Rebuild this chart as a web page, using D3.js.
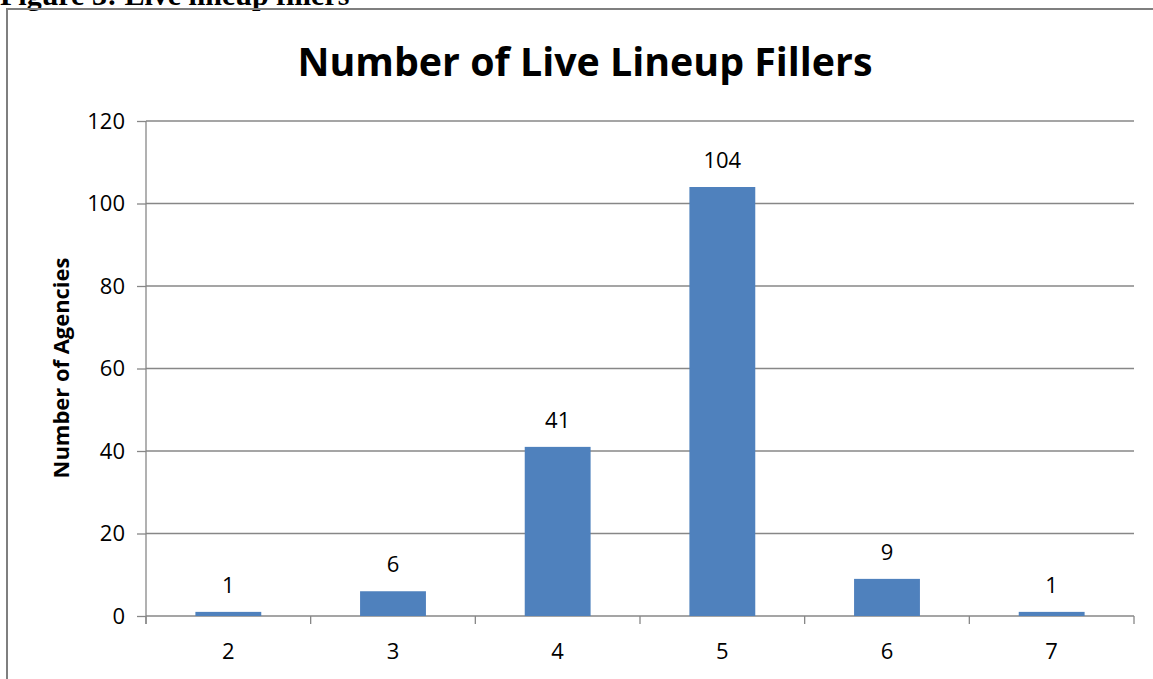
<!DOCTYPE html>
<meta charset="utf-8">
<script src="https://d3js.org/d3.v7.min.js"></script>
<style>
  body { margin: 0; background: #fff; }
  text { font-family: "Open Sans", "Noto Sans", sans-serif; fill: #000; }
</style>
<div id="chart"></div>
<script>
    var categories = ["2", "3", "4", "5", "6", "7"];
    var counts = [1, 6, 41, 104, 9, 1];
    var yTicks = [0, 20, 40, 60, 80, 100, 120];

    var W = 1153, H = 679;
    var margin = {top: 121, right: 19, bottom: 63, left: 146},
        width = W - margin.left - margin.right,
        height = H - margin.top - margin.bottom;

    var svg = d3.select("#chart")
      .append("svg")
        .attr("width", W)
        .attr("height", H);

    // caption cut off at top of page
    svg.append("text")
        .attr("x", 0)
        .attr("y", 5)
        .style("font-family", "'Liberation Serif', 'DejaVu Serif', serif")
        .style("font-weight", "bold")
        .style("font-size", "30px")
        .text("Figure 3: Live lineup fillers");

    // chart frame
    svg.append("rect")
        .attr("x", 7)
        .attr("y", 9)
        .attr("width", W + 10)
        .attr("height", H + 10)
        .attr("fill", "none")
        .attr("stroke", "#7f7f7f")
        .attr("stroke-width", 2);

    var g = svg.append("g")
        .attr("transform", "translate(" + margin.left + "," + margin.top + ")");

    var x = d3.scaleBand()
        .domain(categories)
        .range([0, width])
        .paddingInner(0.6)
        .paddingOuter(0.3);

    var y = d3.scaleLinear()
        .domain([0, 120])
        .range([height, 0]);

    // gridlines
    g.append("g")
      .selectAll("line")
      .data(yTicks.slice(1))
      .enter()
      .append("line")
        .attr("x1", 0)
        .attr("x2", width)
        .attr("y1", function(d) { return y(d); })
        .attr("y2", function(d) { return y(d); })
        .attr("stroke", "#878787")
        .attr("stroke-width", 1.3);

    var yAxis = g.append("g")
        .call(d3.axisLeft(y).tickValues(yTicks).tickSize(9).tickPadding(12).tickSizeOuter(0));
    yAxis.select(".domain").attr("stroke", "#878787").attr("stroke-width", 1.3)
        .attr("d", "M0," + (height + 8) + "V0");
    yAxis.selectAll(".tick line").attr("stroke", "#878787").attr("stroke-width", 1.3);
    yAxis.selectAll("text").style("font-size", "22px").style("font-family", "'Open Sans', sans-serif").attr("fill", "#000");

    // x axis with ticks between categories
    var xTickPos = d3.range(categories.length + 1).map(function(i) { return i * width / categories.length; });
    g.append("line")
        .attr("x1", 0).attr("x2", width)
        .attr("y1", height).attr("y2", height)
        .attr("stroke", "#878787").attr("stroke-width", 1.3);
    g.append("g")
      .selectAll("line")
      .data(xTickPos)
      .enter()
      .append("line")
        .attr("x1", function(d) { return d; })
        .attr("x2", function(d) { return d; })
        .attr("y1", height)
        .attr("y2", height + 8)
        .attr("stroke", "#878787").attr("stroke-width", 1.3);
    g.append("g")
      .selectAll("text")
      .data(categories)
      .enter()
      .append("text")
        .attr("x", function(d) { return x(d) + x.bandwidth() / 2; })
        .attr("y", height + 43)
        .attr("text-anchor", "middle")
        .style("font-size", "22px")
        .text(function(d) { return d; });

    // bars
    g.append("g")
      .selectAll("rect")
      .data(counts)
      .enter()
      .append("rect")
        .attr("x", function(d, i) { return x(categories[i]); })
        .attr("y", function(d) { return y(d); })
        .attr("width", x.bandwidth())
        .attr("height", function(d) { return height - y(d); })
        .attr("fill", "#4f81bd");

    // value labels
    g.append("g")
      .selectAll("text")
      .data(counts)
      .enter()
      .append("text")
        .attr("x", function(d, i) { return x(categories[i]) + x.bandwidth() / 2; })
        .attr("y", function(d) { return y(d) - 19; })
        .attr("text-anchor", "middle")
        .style("font-size", "22px")
        .text(function(d) { return d; });

    // title
    var title = svg.append("text")
        .attr("x", 585)
        .attr("y", 76)
        .attr("text-anchor", "middle")
        .style("font-weight", "bold")
        .style("font-size", "36px")
        .text("Number of Live Lineup Fillers");
    var tw = title.node().getComputedTextLength();
    title.style("font-size", (36 * 575 / tw) + "px");

    // y axis label
    var yl = svg.append("text")
        .attr("transform", "translate(69,368) rotate(-90)")
        .attr("text-anchor", "middle")
        .style("font-weight", "bold")
        .style("font-size", "18px")
        .text("Number of Agencies");
    var lw = yl.node().getComputedTextLength();
    yl.style("font-size", (18 * 221 / lw) + "px");
</script>
